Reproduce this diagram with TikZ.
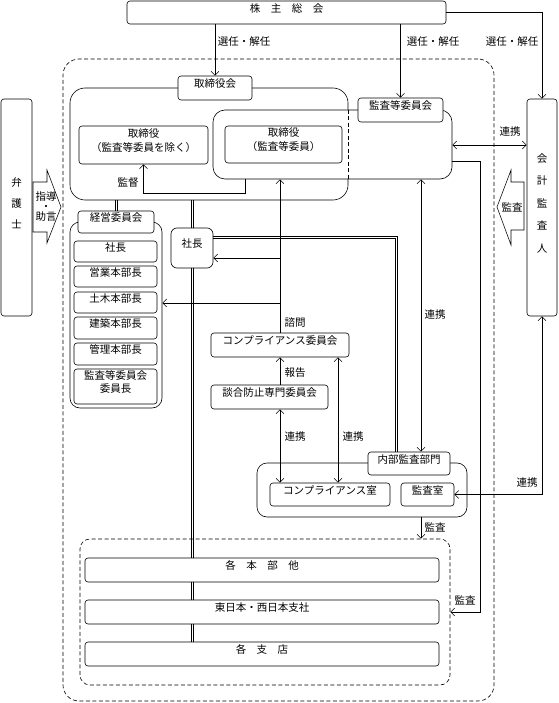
\documentclass[tikz,border=0pt]{standalone}
\usepackage{fontspec}
\setmainfont{Noto Sans CJK JP}
\usetikzlibrary{arrows.meta,fit}
\newcommand\vdbl[2]{%
  \draw[ln] ([xshift=-0.9pt]#1) -- ([xshift=-0.9pt]#2);
  \draw[ln] ([xshift=0.9pt]#1) -- ([xshift=0.9pt]#2);}
\begin{document}
\begin{tikzpicture}[x=1pt,y=-1pt,
  every node/.style={font=\fontsize{10.5}{14}\selectfont},
  bx/.style={draw, rounded corners=3pt, fill=white, inner sep=0pt, line width=0.6pt, align=center},
  grp/.style={draw, inner sep=0pt, line width=0.6pt},
  dgrp/.style={draw, inner sep=0pt, line width=0.6pt, dash pattern=on 4pt off 2.5pt},
  dsh/.style={line width=0.6pt, dash pattern=on 4pt off 2.5pt},
  ln/.style={line width=0.55pt},
  arr/.style={ln, -{Straight Barb[length=4pt,width=8pt]}},
  darr/.style={ln, {Straight Barb[length=4pt,width=8pt]}-{Straight Barb[length=4pt,width=8pt]}},
  lbl/.style={inner sep=1pt}
]
\useasboundingbox (0,0) rectangle (558,703);

% groups
\node[dgrp, rounded corners=16pt, fit={(63,59)(494,701)}] (outer) {};
\node[dgrp, rounded corners=10pt, fit={(80,539)(450,685)}] (lower) {};
\node[grp, rounded corners=15pt, fit={(70,88)(348,200)}] (gA) {};
\node[grp, rounded corners=12pt, fill=white, fit={(213,110)(452,179)}] (gB) {};
\draw[dsh] (gA.east |- gB.north) -- (gA.east |- gB.south);
\node[grp, rounded corners=10pt, fit={(70,222)(162,408)}] (gK) {};
\node[grp, rounded corners=10pt, fit={(257,463)(467,517)}] (gN) {};

% group labels
\node[bx, fit={(178,76)(252,100)}] (lA) {取締役会};
\node[bx, fit={(358,98)(443,122)}] (lB) {監査等委員会};
\node[bx, fit={(78,211)(154,233)}] (lK) {経営委員会};
\node[bx, fit={(368,452)(450,475)}] (lN) {内部監査部門};

% boxes
\node[bx, fit={(127,1)(446,24)}] (top) {株\hspace{1em}主\hspace{1em}総\hspace{1em}会};
\node[bx, fit={(1,99)(32,316)}, font=\fontsize{10.5}{21}\selectfont] (bg) {弁\\護\\士};
\node[bx, fit={(527,99)(557,316)}, font=\fontsize{10.5}{22.5}\selectfont] (ka) {会\\計\\監\\査\\人};
\node[bx, fit={(79,126)(208,164)}] (t1) {取締役\\（監査等委員を除く）};
\node[bx, fit={(225,126)(342,163)}] (t2) {取締役\\（監査等委員）};
\node[bx, fit={(74,241)(157,262)}] (k1) {社長};
\node[bx, fit={(74,266)(157,287)}] (k2) {営業本部長};
\node[bx, fit={(74,292)(157,313)}] (k3) {土木本部長};
\node[bx, fit={(74,317)(157,339)}] (k4) {建築本部長};
\node[bx, fit={(74,343)(157,365)}] (k5) {管理本部長};
\node[bx, fit={(74,369)(157,404)}, font=\fontsize{10.5}{13.5}\selectfont] (k6) {監査等委員会\\委員長};
\node[bx, rounded corners=6pt, fit={(171,228)(213,268)}] (sh) {社長};
\node[bx, fit={(211,333)(349,357)}] (cc) {コンプライアンス委員会};
\node[bx, fit={(211,385)(328,409)}] (dg) {談合防止専門委員会};
\node[bx, fit={(270,483)(390,506)}] (cr) {コンプライアンス室};
\node[bx, fit={(401,483)(454,506)}] (kr) {監査室};
\node[bx, fit={(85,558)(439,582)}] (b1) {各\hspace{1em}本\hspace{1em}部\hspace{1em}他};
\node[bx, fit={(85,600)(439,624)}] (b2) {東日本・西日本支社};
\node[bx, fit={(85,642)(439,666)}] (b3) {各\hspace{1em}支\hspace{1em}店};

% block arrows
\draw[ln, fill=white] (33,182) -- (47,182) -- (47,170) -- (61,207) -- (47,243) -- (47,232) -- (33,232) -- cycle;
\node[inner sep=0pt, align=center, font=\fontsize{10.5}{10}\selectfont] (shido) at (46,207) {指導\\・\\助言};
\draw[ln, fill=white] (524,182) -- (511,182) -- (511,170) -- (497,207) -- (511,245) -- (511,230) -- (524,230) -- cycle;
\node[inner sep=0pt] (kansaA) at (512,207) {監査};

% connectors from top
\draw[arr] (lA.north |- top.south) -- (lA.north);
\draw[arr] (lB.north |- top.south) -- (lB.north);
\draw[arr] (top.east) -| (ka.north);
\node[lbl] (s1) at (244,42) {選任・解任};
\node[lbl] (s2) at (433,42) {選任・解任};
\node[lbl] (s3) at (512,42) {選任・解任};

% kantoku
\draw[arr] (245,0 |- gB.south) -- (245,193) -| (t1.south);
\node[lbl] (kt) at (128,183) {監督};

% renkei gB - kaikei
\draw[darr] (gB.east |- 0,145) -- (ka.west |- 0,145);
\node[lbl] (r1) at (510,132) {連携};

% kansa gB -> lower
\draw[arr] (gB.east |- 0,161) -- (480,161) -- (480,612) -- (lower.east |- 0,612);
\node[lbl] (ks2) at (465,600) {監査};

% kaikei -> kansashitsu
\draw[darr] (ka.south) |- (kr.east);
\node[lbl] (r2) at (527,483) {連携};

% renkei gB - naibu
\draw[darr] (421,0 |- gB.south) -- (421,0 |- lN.north);
\node[lbl] (r3) at (435,315) {連携};

% kansa naibu -> lower
\draw[arr] (421,0 |- gN.south) -- (421,0 |- lower.north);
\node[lbl] (ks1) at (435,527) {監査};

% shacho -> naibu double
\draw[ln] (sh.east |- 0,236.1) -- (397.4,236.1) -- (397.4,0 |- lN.north);
\draw[ln] (sh.east |- 0,237.9) -- (395.6,237.9) -- (395.6,0 |- lN.north);

% compliance committee arrows
\draw[arr] (280,0 |- cc.north) -- (280,0 |- gB.south);
\draw[arr] (280,258) -- (sh.east |- 0,258);
\draw[arr] (280,303) -- (gK.east |- 0,303);
\node[lbl] (sm) at (295,323) {諮問};
\draw[arr] (280,0 |- dg.north) -- (280,0 |- cc.south);
\node[lbl] (hk) at (295,373) {報告};
\draw[darr] (280,0 |- dg.south) -- (280,0 |- cr.north);
\node[lbl] (r4) at (295,437) {連携};
\draw[darr] (338,0 |- cc.south) -- (338,0 |- cr.north);
\node[lbl] (r5) at (353,437) {連携};

% double lines
\vdbl{lK.north |- gA.south}{lK.north}
\vdbl{sh.north |- gA.south}{sh.north}
\vdbl{sh.south}{sh.south |- b1.north}
\vdbl{sh.south |- b1.south}{sh.south |- b2.north}
\vdbl{sh.south |- b2.south}{sh.south |- b3.north}
\end{tikzpicture}
\end{document}
